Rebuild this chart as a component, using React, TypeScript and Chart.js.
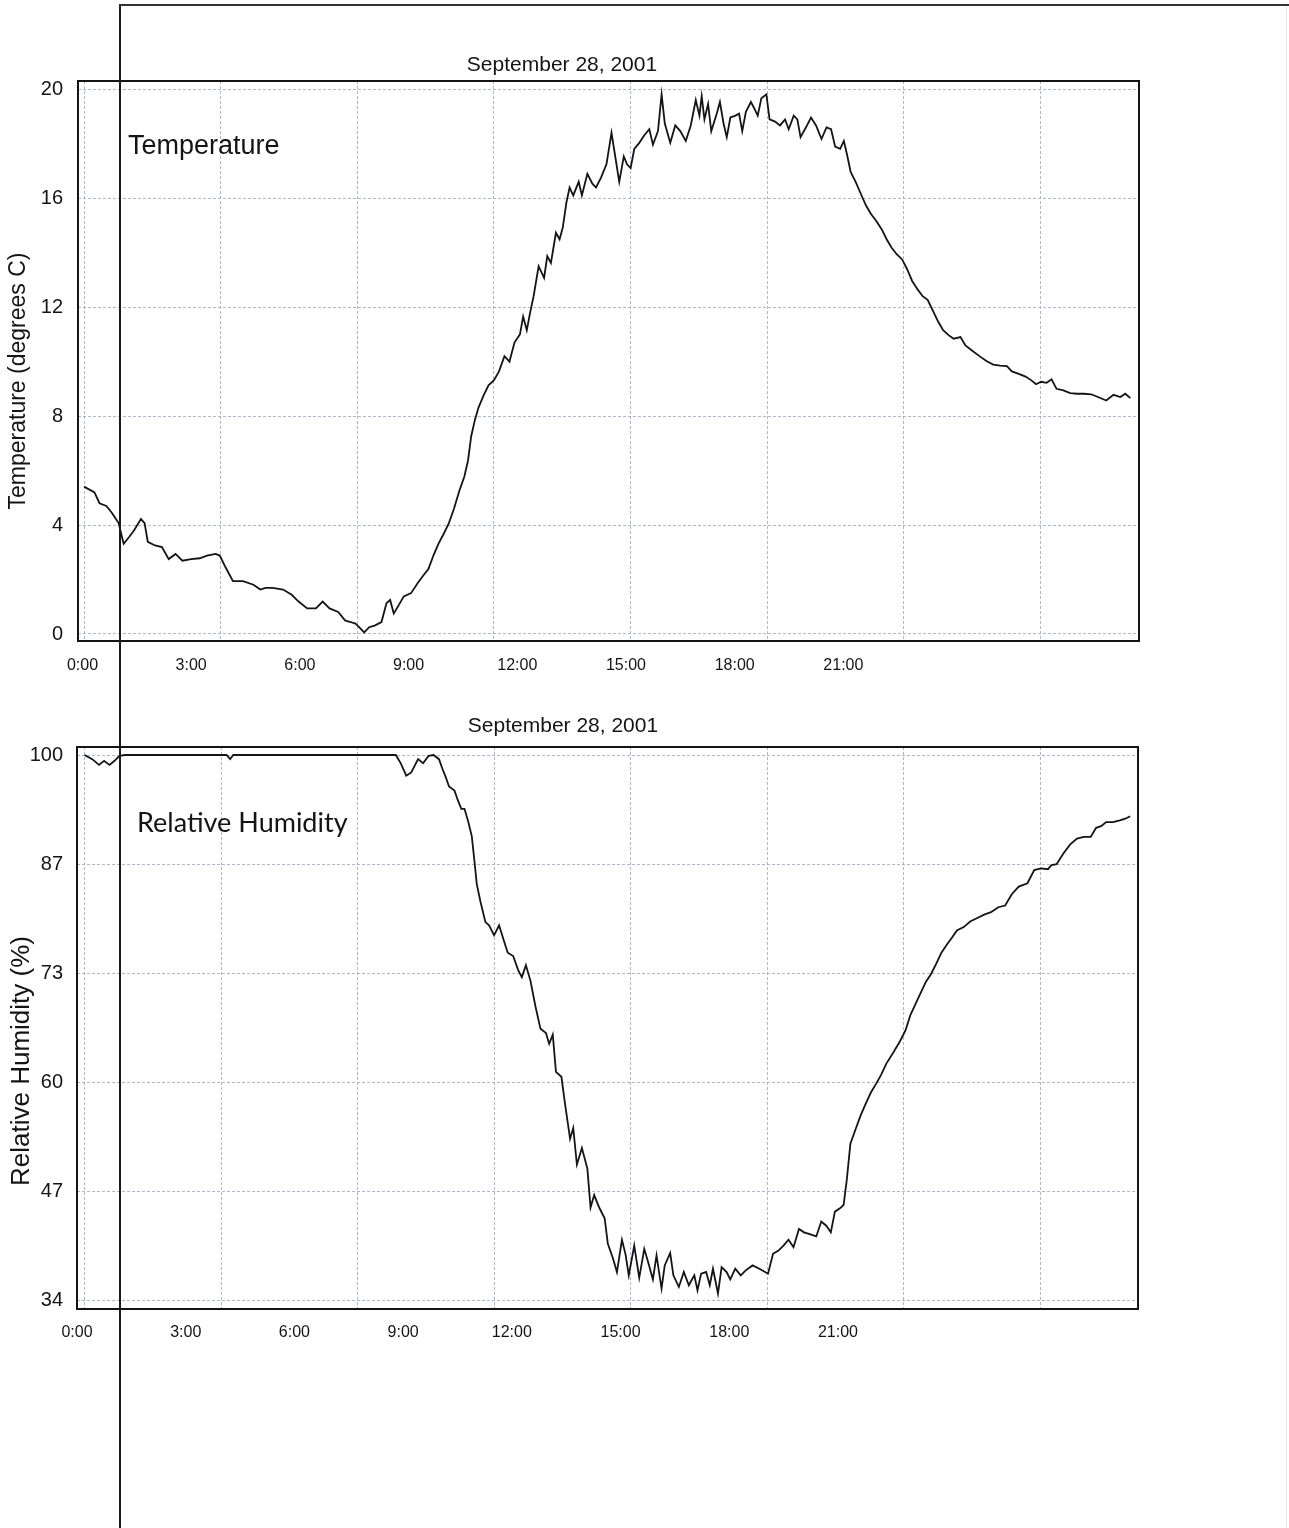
import React, { useEffect, useRef } from "react";
import { Chart, registerables } from "chart.js";

Chart.register(...registerables);

// ---------- data ----------
const hourTicks = [0, 3, 6, 9, 12, 15, 18, 21];
const hourLabels = ["0:00", "3:00", "6:00", "9:00", "12:00", "15:00", "18:00", "21:00"];

const tempTicks = [0, 4, 8, 12, 16, 20];
const tempTickLabels = ["0", "4", "8", "12", "16", "20"];

const humidityTicks = [34, 47.2, 60.4, 73.6, 86.8, 100];
const humidityTickLabels = ["34", "47", "60", "73", "87", "100"];

const chartTitle = "September 28, 2001";

const tempHours = [
  0.0, 0.23, 0.34, 0.49, 0.61, 0.76, 0.87, 0.99, 1.1, 1.25, 1.33, 1.4, 1.56, 1.71, 1.86, 2.01,
  2.16, 2.35, 2.54, 2.7, 2.89, 2.98, 3.11, 3.27, 3.49, 3.72, 3.87, 3.99, 4.14, 4.37, 4.56, 4.71,
  4.9, 5.09, 5.24, 5.39, 5.58, 5.73, 5.85, 5.96, 6.04, 6.15, 6.26, 6.38, 6.53, 6.64, 6.72, 6.8,
  6.91, 7.02, 7.18, 7.33, 7.44, 7.56, 7.67, 7.78, 7.9, 8.01, 8.12, 8.24, 8.35, 8.43, 8.5, 8.58,
  8.66, 8.77, 8.88, 9.0, 9.11, 9.23, 9.34, 9.45, 9.57, 9.64, 9.72, 9.79, 9.87, 9.98, 10.1, 10.17,
  10.25, 10.36, 10.44, 10.51, 10.59, 10.66, 10.74, 10.86, 10.93, 11.05, 11.16, 11.24, 11.35, 11.47,
  11.58, 11.75, 11.85, 11.92, 12.0, 12.08, 12.19, 12.3, 12.41, 12.49, 12.6, 12.68, 12.75, 12.87,
  12.98, 13.09, 13.21, 13.32, 13.43, 13.51, 13.56, 13.62, 13.7, 13.77, 13.89, 13.96, 14.04, 14.11,
  14.19, 14.3, 14.38, 14.45, 14.53, 14.64, 14.71, 14.79, 14.87, 14.98, 15.05, 15.17, 15.28, 15.39,
  15.47, 15.58, 15.66, 15.73, 15.85, 15.96, 16.07, 16.19, 16.3, 16.4, 16.49, 16.6, 16.68, 16.75,
  16.83, 16.94, 17.05, 17.17, 17.28, 17.39, 17.51, 17.62, 17.73, 17.84, 17.96, 18.07, 18.18, 18.3,
  18.41, 18.52, 18.64, 18.75, 18.86, 18.98, 19.09, 19.24, 19.35, 19.5, 19.65, 19.81, 19.96, 20.11,
  20.26, 20.37, 20.52, 20.67, 20.79, 20.9, 21.01, 21.13, 21.24, 21.35, 21.5, 21.65, 21.8, 21.95,
  22.11, 22.26, 22.44, 22.6, 22.75, 22.86, 22.97,
];
const tempValues = [
  5.41, 5.2, 4.8, 4.7, 4.45, 4.07, 3.31, 3.56, 3.81, 4.22, 4.07, 3.38, 3.25, 3.19, 2.75, 2.94,
  2.69, 2.75, 2.78, 2.88, 2.94, 2.88, 2.44, 1.94, 1.94, 1.81, 1.63, 1.69, 1.69, 1.63, 1.44, 1.19,
  0.94, 0.94, 1.19, 0.94, 0.81, 0.5, 0.44, 0.38, 0.25, 0.06, 0.25, 0.31, 0.44, 1.13, 1.25, 0.75,
  1.06, 1.38, 1.5, 1.88, 2.13, 2.38, 2.88, 3.31, 3.69, 4.07, 4.59, 5.26, 5.78, 6.37, 7.26, 7.85,
  8.31, 8.75, 9.13, 9.32, 9.64, 10.2, 10.0, 10.7, 11.0, 11.65, 11.15, 11.77, 12.4, 13.5, 13.07, 13.87,
  13.62, 14.73, 14.49, 14.92, 15.84, 16.39, 16.1, 16.6, 16.1, 16.89, 16.53, 16.39, 16.75, 17.25,
  18.4, 16.6, 17.53, 17.24, 17.1, 17.81, 18.03, 18.31, 18.53, 17.96, 18.46, 19.81, 18.74, 18.03,
  18.67, 18.46, 18.1, 18.67, 19.6, 19.03, 19.74, 18.89, 19.46, 18.46, 19.1, 19.53, 18.74, 18.24,
  18.96, 19.03, 19.1, 18.46, 19.17, 19.53, 19.31, 19.03, 19.67, 19.81, 18.89, 18.81, 18.67, 18.89,
  18.53, 19.03, 18.89, 18.24, 18.6, 18.96, 18.67, 18.17, 18.6, 18.53, 17.89, 17.81, 18.1, 17.6,
  16.96, 16.6, 16.17, 15.72, 15.41, 15.17, 14.86, 14.49, 14.18, 13.94, 13.75, 13.39, 12.96, 12.65,
  12.4, 12.27, 11.85, 11.47, 11.15, 10.97, 10.84, 10.9, 10.59, 10.4, 10.21, 10.02, 9.89, 9.85,
  9.83, 9.64, 9.55, 9.45, 9.32, 9.17, 9.26, 9.22, 9.35, 9.0, 8.94, 8.84, 8.82, 8.82,
  8.8, 8.7, 8.57, 8.78, 8.7, 8.82, 8.66,
];

const humidityHours = [
  0.0, 0.17, 0.32, 0.43, 0.55, 0.66, 0.77, 0.89, 3.12, 3.2, 3.27, 6.84, 6.95, 7.07, 7.18, 7.33,
  7.44, 7.56, 7.67, 7.79, 7.86, 7.94, 8.01, 8.13, 8.2, 8.28, 8.35, 8.43, 8.51, 8.57, 8.62, 8.7,
  8.81, 8.89, 9.0, 9.11, 9.23, 9.3, 9.42, 9.53, 9.61, 9.7, 9.8, 9.91, 10.02, 10.14, 10.21, 10.29,
  10.36, 10.48, 10.55, 10.67, 10.74, 10.82, 10.93, 11.05, 11.12, 11.2, 11.31, 11.43, 11.5, 11.61,
  11.7, 11.81, 11.89, 11.96, 12.08, 12.19, 12.3, 12.38, 12.49, 12.57, 12.68, 12.75, 12.87, 12.94,
  13.06, 13.17, 13.28, 13.4, 13.47, 13.55, 13.66, 13.74, 13.81, 13.92, 14.0, 14.11, 14.19, 14.3,
  14.42, 14.53, 14.68, 14.83, 15.02, 15.13, 15.25, 15.36, 15.47, 15.58, 15.7, 15.81, 15.92, 16.08,
  16.19, 16.3, 16.4, 16.49, 16.6, 16.68, 16.75, 16.83, 16.94, 17.06, 17.17, 17.28, 17.4, 17.51,
  17.62, 17.77, 17.92, 18.04, 18.15, 18.26, 18.38, 18.49, 18.6, 18.72, 18.83, 18.94, 19.06, 19.17,
  19.32, 19.47, 19.62, 19.77, 19.92, 20.08, 20.23, 20.38, 20.53, 20.72, 20.87, 21.02, 21.17, 21.25,
  21.36, 21.51, 21.66, 21.81, 21.96, 22.11, 22.23, 22.34, 22.45, 22.6, 22.75, 22.87, 22.98,
];
const humidityValues = [
  100, 99.5, 98.8, 99.3, 98.8, 99.3, 99.9, 100, 100, 99.5, 100, 100, 99.0, 97.5, 97.9, 99.5,
  99.0, 99.9, 100, 99.5, 98.4, 97.3, 96.2, 95.7, 94.6, 93.5, 93.5, 92.0, 90.2, 87.1, 84.4, 82.3,
  79.8, 79.4, 78.2, 79.4, 77.3, 76.1, 75.7, 74.0, 73.15, 74.6, 72.7, 69.6, 66.9, 66.4, 65.1, 66.2,
  61.7, 61.1, 58.2, 53.6, 54.9, 50.5, 52.5, 50.0, 45.3, 46.8, 45.3, 44.0, 40.9, 39.2,
  37.5, 41.4, 39.6, 37.1, 40.7, 36.8, 40.3, 38.8, 36.6, 39.5, 35.5, 38.3, 39.8, 37.1,
  35.7, 37.5, 35.9, 37.1, 35.3, 37.3, 37.5, 35.9, 37.9, 34.9, 38.1, 37.5, 36.6, 37.9,
  37.1, 37.7, 38.3, 37.9, 37.3, 39.7, 40.1, 40.7, 41.4, 40.5, 42.7, 42.3, 42.1, 41.8,
  43.6, 43.1, 42.3, 44.8, 45.2, 45.6, 48.6, 53.0, 54.7, 56.5, 57.9, 59.2, 60.3, 61.4,
  62.7, 64.0, 65.4, 66.7, 68.6, 69.9, 71.3, 72.6, 73.5, 74.8, 76.1, 77.0, 77.9, 78.8,
  79.2, 79.9, 80.3, 80.7, 81.0, 81.6, 81.8, 83.2, 84.1, 84.5, 86.1, 86.3, 86.2, 86.7,
  86.8, 88.1, 89.2, 89.9, 90.1, 90.1, 91.2, 91.4, 91.9, 91.9, 92.1, 92.3, 92.6,
];

// ---------- styling ----------
const SANS = "'Liberation Sans', Arial, Helvetica, sans-serif";
const INK = "#141414";
const GRID = "rgba(158,162,192,0.8)";

const framePlugin = {
  id: "plotFrame",
  afterDraw(chart: any) {
    const { ctx, chartArea: a } = chart;
    ctx.save();
    ctx.strokeStyle = INK;
    ctx.lineWidth = 2;
    ctx.strokeRect(a.left, a.top, a.right - a.left, a.bottom - a.top);
    ctx.restore();
  },
};

type TextItem = { text: string; x: number; y: number; font: string; rotate?: number; align?: CanvasTextAlign };

function makeTextPlugin(items: TextItem[]) {
  return {
    id: "pageText",
    afterDraw(chart: any) {
      const ctx = chart.ctx;
      for (const t of items) {
        ctx.save();
        ctx.font = t.font;
        ctx.fillStyle = INK;
        ctx.textAlign = t.align || "left";
        ctx.textBaseline = "middle";
        ctx.translate(t.x, t.y);
        if (t.rotate) ctx.rotate(t.rotate);
        ctx.fillText(t.text, 0, 0);
        ctx.restore();
      }
    },
  };
}

type Geo = {
  hours: number[];
  values: number[];
  yTicks: number[];
  yLabels: string[];
  yMin: number;
  yMax: number;
  xMin: number;
  xMax: number;
  lMin: number;
  lMax: number;
  padTop: number;
  padRight: number;
  yWidth: number;
  yPad: number;
  labelAxisHeight: number;
  labelPad: number;
  texts: TextItem[];
};

function buildConfig(g: Geo): any {
  return {
    type: "line",
    data: {
      datasets: [
        {
          data: g.hours.map((h, i) => ({ x: h, y: g.values[i] })),
          borderColor: INK,
          borderWidth: 1.8,
          pointRadius: 0,
          tension: 0,
          fill: false,
        },
      ],
    },
    options: {
      animation: false,
      responsive: false,
      events: [],
      layout: { padding: { top: g.padTop, right: g.padRight, left: 0, bottom: 0 } },
      plugins: { legend: { display: false }, title: { display: false }, tooltip: { enabled: false } },
      scales: {
        x: {
          type: "linear",
          position: "bottom",
          min: g.xMin,
          max: g.xMax,
          afterBuildTicks: (s: any) => {
            s.ticks = hourTicks.map((v) => ({ value: v }));
          },
          afterFit: (s: any) => {
            s.height = 0;
          },
          ticks: { display: false },
          grid: { color: GRID, lineWidth: 1, drawTicks: false },
          border: { display: false, dash: [3, 2] },
        },
        xl: {
          type: "linear",
          position: "bottom",
          min: g.lMin,
          max: g.lMax,
          afterBuildTicks: (s: any) => {
            s.ticks = hourTicks.map((v) => ({ value: v }));
          },
          afterFit: (s: any) => {
            s.height = g.labelAxisHeight;
          },
          grid: { display: false, drawTicks: false },
          border: { display: false },
          ticks: {
            padding: g.labelPad,
            autoSkip: false,
            maxRotation: 0,
            color: INK,
            font: { family: SANS, size: 16 },
            callback: (_v: any, i: number) => hourLabels[i],
          },
        },
        y: {
          type: "linear",
          position: "left",
          min: g.yMin,
          max: g.yMax,
          afterBuildTicks: (s: any) => {
            s.ticks = g.yTicks.map((v) => ({ value: v }));
          },
          afterFit: (s: any) => {
            s.width = g.yWidth;
          },
          grid: { color: GRID, lineWidth: 1, drawTicks: false },
          border: { display: false, dash: [3, 2] },
          ticks: {
            padding: g.yPad,
            color: INK,
            font: { family: SANS, size: 20 },
            callback: (_v: any, i: number) => g.yLabels[i],
          },
        },
      },
    },
    plugins: [framePlugin, makeTextPlugin(g.texts)],
  };
}

const topGeo: Geo = {
  hours: tempHours,
  values: tempValues,
  yTicks: tempTicks,
  yLabels: tempTickLabels,
  yMin: -0.257,
  yMax: 20.3,
  xMin: -0.132,
  xMax: 23.16,
  lMin: -0.124,
  lMax: 29.16,
  padTop: 81,
  padRight: 150,
  yWidth: 78,
  yPad: 15,
  labelAxisHeight: 59,
  labelPad: 15,
  texts: [
    { text: chartTitle, x: 562, y: 65, font: `21px ${SANS}`, align: "center" },
    { text: "Temperature", x: 128, y: 147, font: `27px ${SANS}` },
    { text: "Temperature (degrees C)", x: 19, y: 381, font: `23px ${SANS}`, align: "center", rotate: -Math.PI / 2 },
  ],
};

const bottomGeo: Geo = {
  hours: humidityHours,
  values: humidityValues,
  yTicks: humidityTicks,
  yLabels: humidityTickLabels,
  yMin: 33.03,
  yMax: 100.97,
  xMin: -0.165,
  xMax: 23.15,
  lMin: 0,
  lMax: 29.28,
  padTop: 47,
  padRight: 151,
  yWidth: 77,
  yPad: 14,
  labelAxisHeight: 91,
  labelPad: 14,
  texts: [
    { text: chartTitle, x: 563, y: 26, font: `21px ${SANS}`, align: "center" },
    { text: "Relative Humidity", x: 137, y: 123, font: `27px Lato, 'Open Sans', sans-serif` },
    { text: "Relative Humidity (%)", x: 22, y: 361, font: `26px ${SANS}`, align: "center", rotate: -Math.PI / 2 },
  ],
};

function ChartCanvas({ geo, top }: { geo: Geo; top: number }) {
  const ref = useRef<HTMLCanvasElement | null>(null);
  useEffect(() => {
    if (!ref.current) return;
    const chart = new Chart(ref.current, buildConfig(geo));
    return () => chart.destroy();
  }, [geo]);
  return (
    <canvas
      ref={ref}
      width={1289}
      height={700}
      style={{ position: "absolute", left: 0, top, width: 1289, height: 700, display: "block" }}
    />
  );
}

export default function App() {
  return (
    <div
      style={{
        position: "absolute",
        left: 0,
        top: 0,
        width: 1289,
        height: 1528,
        overflow: "hidden",
        background: "#ffffff",
      }}
    >
      <ChartCanvas geo={topGeo} top={0} />
      <ChartCanvas geo={bottomGeo} top={700} />
      {/* scanned page edges */}
      <div style={{ position: "absolute", left: 119, top: 4, width: 2, height: 1524, background: "#1a1a1a" }} />
      <div style={{ position: "absolute", left: 119, top: 4, width: 1170, height: 1.5, background: "#333" }} />
      <div style={{ position: "absolute", left: 1286, top: 6, width: 1, height: 1522, background: "#e6e6e6" }} />
    </div>
  );
}
